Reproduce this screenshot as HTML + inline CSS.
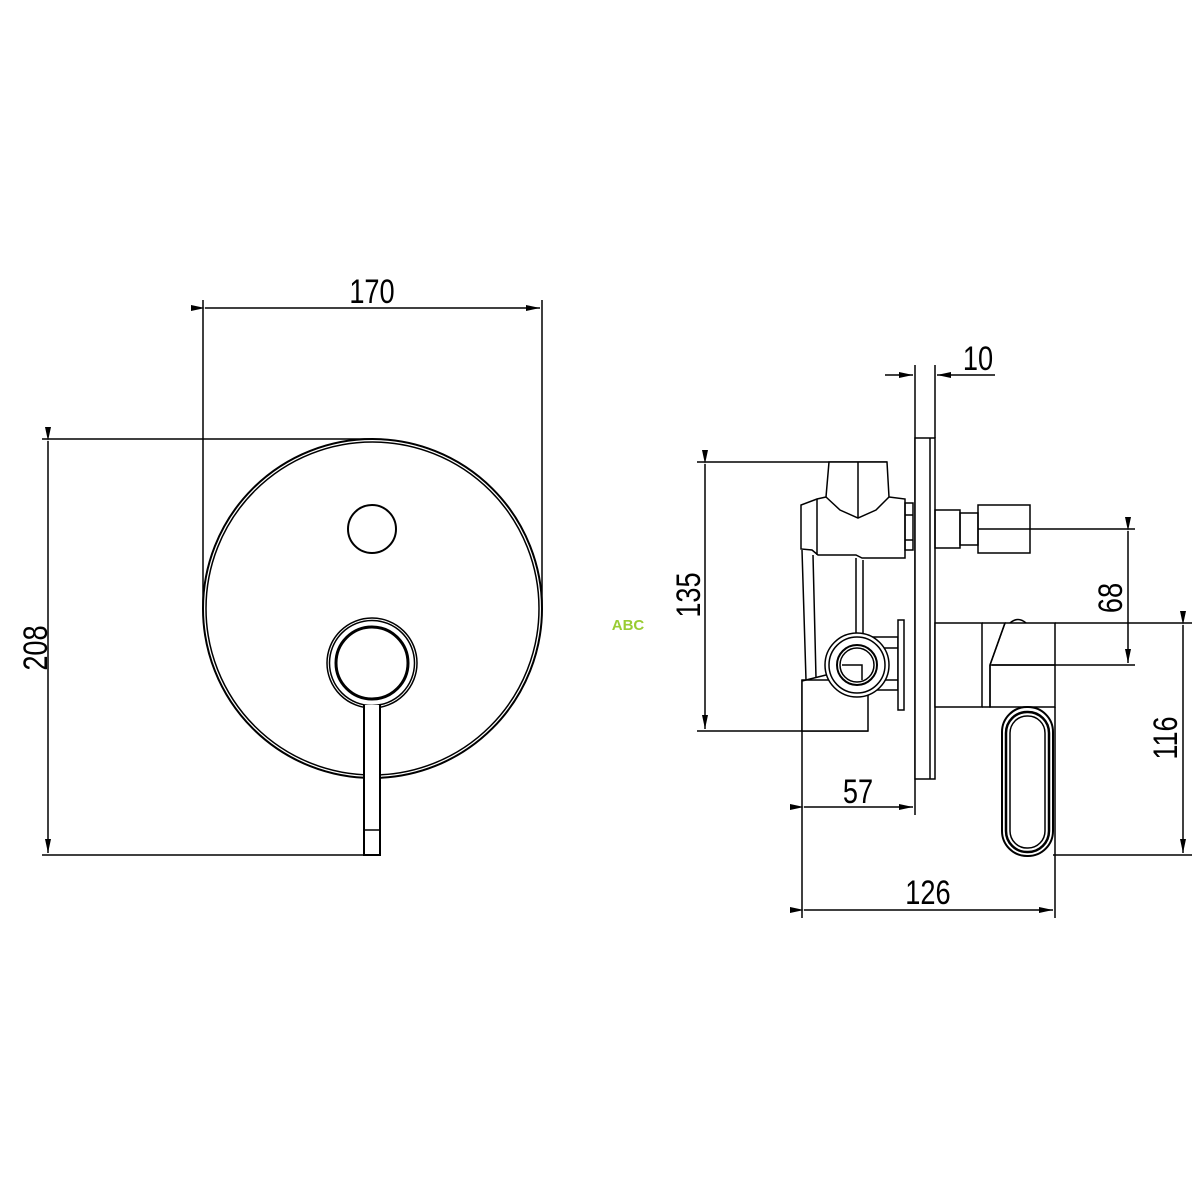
<!DOCTYPE html>
<html><head><meta charset="utf-8"><style>
html,body{margin:0;padding:0;background:#fff;}
svg{display:block}
text{font-family:"Liberation Sans",sans-serif;font-size:34px;fill:#000;}
</style></head><body>
<svg width="1200" height="1200" viewBox="0 0 1200 1200" xmlns="http://www.w3.org/2000/svg">
<defs>
<marker id="a" viewBox="0 0 14 6" refX="14" refY="3" markerWidth="14" markerHeight="6" orient="auto" markerUnits="userSpaceOnUse"><path d="M0,0 L14,3 L0,6z" fill="#000"/></marker>
</defs>
<g fill="none" stroke="#000" stroke-width="1.5">
<line x1="203" y1="300" x2="203" y2="610"/>
<line x1="542" y1="300" x2="542" y2="610"/>
<line x1="205" y1="308" x2="540" y2="308" marker-start="url(#a)" marker-end="url(#a)"/>
<line x1="42" y1="439" x2="372" y2="439"/>
<line x1="42" y1="855" x2="380" y2="855"/>
<line x1="48" y1="441" x2="48" y2="853" marker-start="url(#a)" marker-end="url(#a)"/>
<circle cx="372.5" cy="608.5" r="169.5" stroke-width="2"/>
<circle cx="372.5" cy="608.5" r="166.5"/>
<circle cx="372" cy="529" r="24" stroke-width="2"/>
<circle cx="372" cy="663" r="45" stroke-width="1.5"/>
<circle cx="372" cy="663" r="42.5" stroke-width="1.5"/>
<circle cx="372" cy="663" r="36" stroke-width="3"/>
<path d="M364,705 L364,855 L380,855 L380,705" fill="#fff" stroke-width="2"/>
<line x1="364" y1="830" x2="380" y2="830"/>
<line x1="915" y1="365" x2="915" y2="815"/>
<line x1="935" y1="365" x2="935" y2="438"/>
<line x1="885" y1="375" x2="913" y2="375" marker-end="url(#a)"/>
<line x1="995" y1="375" x2="937" y2="375" marker-end="url(#a)"/>
<line x1="697" y1="462" x2="887" y2="462"/>
<line x1="697" y1="731" x2="868" y2="731"/>
<line x1="705" y1="464" x2="705" y2="729" marker-start="url(#a)" marker-end="url(#a)"/>
<line x1="1030" y1="529" x2="1135" y2="529"/>
<line x1="992" y1="665" x2="1135" y2="665"/>
<line x1="1128" y1="531" x2="1128" y2="663" marker-start="url(#a)" marker-end="url(#a)"/>
<line x1="1055" y1="623" x2="1192" y2="623"/>
<line x1="1053" y1="855" x2="1192" y2="855"/>
<line x1="1183" y1="625" x2="1183" y2="853" marker-start="url(#a)" marker-end="url(#a)"/>
<line x1="802" y1="680" x2="802" y2="918"/>
<line x1="1055" y1="707" x2="1055" y2="918"/>
<line x1="804" y1="807" x2="913" y2="807" marker-start="url(#a)" marker-end="url(#a)"/>
<line x1="804" y1="910" x2="1053" y2="910" marker-start="url(#a)" marker-end="url(#a)"/>
<rect x="915" y="438" width="20" height="341" fill="#fff"/>
<line x1="930" y1="438" x2="930" y2="779"/>
<path d="M829,462 L887,462 L889,497 L905,499 L905,558 L862,558 L856,555 L818,555 L812,550 L801,549 L801,505 L817,499 L826,497 Z" fill="#fff"/>
<line x1="858" y1="462" x2="858" y2="518"/>
<path d="M826,497 L840,510 L858,518 L876,510 L889,497"/>
<line x1="817" y1="499" x2="817" y2="555"/>
<rect x="905" y="503" width="8" height="47"/>
<line x1="905" y1="515" x2="913" y2="515"/><line x1="905" y1="540" x2="913" y2="540"/>
<path d="M802,550 L806,680 M813,555 L816,678"/>
<path d="M856,558 L856,633 M863,560 L863,633"/>
<rect x="802" y="680" width="66" height="51" fill="#fff"/>
<path d="M802,681 L830,674"/>
<rect x="868" y="637" width="30" height="53" fill="#fff"/>
<line x1="868" y1="648" x2="898" y2="648"/><line x1="868" y1="680" x2="898" y2="680"/>
<rect x="898" y="620" width="6" height="90" fill="#fff"/>
<circle cx="857" cy="665" r="32" fill="#fff"/>
<circle cx="857" cy="665" r="28"/>
<circle cx="857" cy="665" r="20" stroke-width="2"/>
<circle cx="857" cy="665" r="17"/>
<path d="M842,665 L862,665 L862,680"/>
<rect x="935" y="510" width="25" height="38"/>
<rect x="960" y="513" width="18" height="32"/>
<rect x="978" y="505" width="52" height="48"/>
<line x1="978" y1="529" x2="1030" y2="529"/>
<rect x="935" y="623" width="47" height="84" fill="#fff"/>
<path d="M982,623 L1005,623 L990,665 L990,707 L982,707"/>
<path d="M1005,623 L1055,623 L1055,707 L990,707 L990,665 L1005,623"/>
<line x1="990" y1="665" x2="1055" y2="665"/>
<path d="M1010,623 Q1018,616 1026,623"/>
<rect x="1002" y="707" width="51" height="149" rx="25" fill="#fff" stroke-width="2"/>
<rect x="1006" y="712" width="43" height="140" rx="21" stroke-width="2.5"/>
<rect x="1010" y="716" width="35" height="132" rx="17"/>
</g>
<text x="372" y="303" text-anchor="middle" transform="translate(372 0) scale(0.8 1) translate(-372 0)">170</text>
<text transform="translate(47 648) rotate(-90) scale(0.8 1)" text-anchor="middle">208</text>
<text x="978" y="370" text-anchor="middle" transform="translate(978 0) scale(0.8 1) translate(-978 0)">10</text>
<text transform="translate(700 595) rotate(-90) scale(0.8 1)" text-anchor="middle">135</text>
<text transform="translate(1122 598) rotate(-90) scale(0.8 1)" text-anchor="middle">68</text>
<text transform="translate(1177 738) rotate(-90) scale(0.8 1)" text-anchor="middle">116</text>
<text x="858" y="803" text-anchor="middle" transform="translate(858 0) scale(0.8 1) translate(-858 0)">57</text>
<text x="928" y="904" text-anchor="middle" transform="translate(928 0) scale(0.8 1) translate(-928 0)">126</text>
<text x="628" y="630" text-anchor="middle" style="font-size:15px;font-weight:bold;fill:#9c3">ABC</text>
</svg>
</body></html>
